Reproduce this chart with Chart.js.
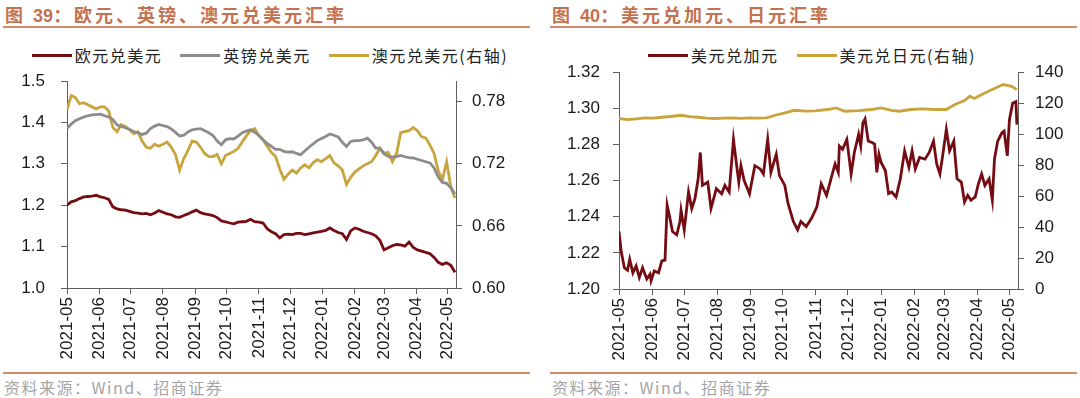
<!DOCTYPE html>
<html>
<head>
<meta charset="utf-8">
<script src="https://cdn.jsdelivr.net/npm/chart.js@4/dist/chart.umd.min.js"></script>
<style>
  body { margin: 0; width: 1080px; height: 398px; background: #fff; position: relative; overflow: hidden;
         font-family: "Noto Sans CJK SC", sans-serif; }
  .title { position: absolute; top: 3px; font-size: 18px; font-weight: bold; color: #c4714f;
           letter-spacing: 3px; line-height: 22px; white-space: nowrap; }
  .title .num { font-family: "Liberation Sans", Arial, sans-serif; letter-spacing: 0; }
  .rule { position: absolute; height: 2px; background: #d4896a; }
  .src { position: absolute; top: 377px; font-size: 16px; color: #a5a5a5; letter-spacing: 1.5px;
         line-height: 20px; white-space: nowrap; }
  .legend { position: absolute; top: 45px; height: 20px; width: 540px; display: flex; justify-content: center;
            align-items: center; font-size: 16px; letter-spacing: 1.5px; color: #222; line-height: 20px; }
  .legend .item { display: flex; align-items: center; margin: 0 9px; white-space: nowrap; }
  .legend .swatch { width: 40px; height: 3px; margin-right: 3px; }
  .box { position: absolute; top: 40px; width: 540px; height: 330px; }
</style>
</head>
<body>
<div class="title" style="left:5px">图 <span class="num">39</span>：欧元、英镑、澳元兑美元汇率</div>
<div class="rule" style="left:3px;width:527px;top:26px"></div>
<div class="title" style="left:552px">图 <span class="num">40</span>：美元兑加元、日元汇率</div>
<div class="rule" style="left:550px;width:527px;top:26px"></div>

<div class="legend" id="legend1" style="left:0"></div>
<div class="legend" id="legend2" style="left:542px"></div>

<div class="box" style="left:0"><canvas id="c1" width="540" height="330"></canvas></div>
<div class="box" style="left:540px"><canvas id="c2" width="540" height="330"></canvas></div>

<div class="rule" style="left:3px;width:527px;top:372px"></div>
<div class="rule" style="left:550px;width:527px;top:372px"></div>
<div class="src" style="left:4px">资料来源：Wind、招商证券</div>
<div class="src" style="left:552px">资料来源：Wind、招商证券</div>

<script>
var START = "2021-05-01";
var LAST_DAY = 373;
var tickLabels = ["2021-05", "2021-06", "2021-07", "2021-08", "2021-09", "2021-10", "2021-11",
  "2021-12", "2022-01", "2022-02", "2022-03", "2022-04", "2022-05"];

// left chart: one reading every 4 days from 2021-05-01
var STEP_DAYS = 4;
var eurUsd = [
  1.200, 1.208, 1.211, 1.216, 1.220, 1.221, 1.222, 1.224, 1.220, 1.218,
  1.214, 1.196, 1.191, 1.189, 1.188, 1.185, 1.182, 1.181, 1.179, 1.180,
  1.177, 1.181, 1.187, 1.183, 1.179, 1.177, 1.172, 1.171, 1.175, 1.179,
  1.184, 1.188, 1.182, 1.179, 1.177, 1.175, 1.170, 1.162, 1.160, 1.157,
  1.155, 1.159, 1.160, 1.161, 1.166, 1.160, 1.159, 1.157, 1.143, 1.136,
  1.131, 1.121, 1.129, 1.130, 1.129, 1.132, 1.132, 1.129, 1.131, 1.133,
  1.135, 1.137, 1.139, 1.145, 1.139, 1.134, 1.131, 1.117, 1.138, 1.145,
  1.142, 1.137, 1.134, 1.131, 1.126, 1.115, 1.092, 1.097, 1.102, 1.105,
  1.104, 1.101, 1.111, 1.098, 1.092, 1.089, 1.086, 1.083, 1.074, 1.062,
  1.057, 1.061, 1.055, 1.038
];
var gbpUsd = [
  1.385, 1.396, 1.404, 1.409, 1.413, 1.416, 1.418, 1.419, 1.420, 1.416,
  1.413, 1.407, 1.394, 1.390, 1.387, 1.383, 1.378, 1.375, 1.371, 1.374,
  1.385, 1.391, 1.395, 1.392, 1.390, 1.384, 1.376, 1.367, 1.369, 1.377,
  1.382, 1.384, 1.385, 1.380, 1.375, 1.368, 1.355, 1.346, 1.358, 1.361,
  1.360, 1.367, 1.375, 1.379, 1.382, 1.376, 1.369, 1.358, 1.349, 1.342,
  1.335, 1.335, 1.330, 1.328, 1.329, 1.325, 1.322, 1.331, 1.340, 1.348,
  1.356, 1.361, 1.366, 1.372, 1.369, 1.365, 1.352, 1.342, 1.354, 1.356,
  1.356, 1.358, 1.362, 1.352, 1.338, 1.338, 1.324, 1.318, 1.316, 1.318,
  1.320, 1.317, 1.315, 1.314, 1.311, 1.308, 1.305, 1.302, 1.290, 1.268,
  1.255, 1.253, 1.242, 1.227
];
var audUsd = [
  0.772, 0.786, 0.784, 0.778, 0.779, 0.777, 0.775, 0.773, 0.775, 0.775,
  0.771, 0.755, 0.751, 0.758, 0.756, 0.753, 0.749, 0.751, 0.742, 0.736,
  0.735, 0.739, 0.737, 0.739, 0.741, 0.736, 0.729, 0.714, 0.725, 0.733,
  0.742, 0.741, 0.736, 0.730, 0.727, 0.727, 0.729, 0.720, 0.728, 0.730,
  0.732, 0.735, 0.741, 0.747, 0.752, 0.754, 0.747, 0.743, 0.737, 0.731,
  0.727, 0.715, 0.705, 0.710, 0.714, 0.711, 0.716, 0.719, 0.716, 0.721,
  0.724, 0.722, 0.725, 0.728, 0.721, 0.718, 0.714, 0.700, 0.707, 0.712,
  0.715, 0.718, 0.720, 0.722, 0.728, 0.735, 0.730, 0.731, 0.722, 0.730,
  0.750, 0.751, 0.752, 0.755, 0.752, 0.746, 0.745, 0.738, 0.730, 0.713,
  0.705, 0.722, 0.698, 0.687
];
var eurTicks = [1.0, 1.1, 1.2, 1.3, 1.4, 1.5];
var audTicks = [0.60, 0.66, 0.72, 0.78];

// right chart: day offsets from START and readings
var cadDays = [0, 2, 5, 8, 10, 13, 16, 19, 22, 26, 29, 30, 33, 37, 40, 43, 45, 47, 50, 54,
  57, 58, 61, 65, 68, 71, 74, 76, 78, 83, 86, 91, 96, 99, 103, 107, 110, 112, 114, 117,
  122, 127, 132, 135, 139, 142, 147, 150, 155, 158, 163, 167, 170, 175, 180, 185, 189, 194, 199, 202,
  205, 206, 209, 213, 217, 220, 224, 226, 228, 230, 233, 237, 239, 241, 243, 245, 249, 252, 255, 259,
  263, 267, 271, 274, 277, 281, 286, 290, 294, 297, 300, 303, 306, 309, 313, 316, 320, 323, 326, 329,
  333, 336, 339, 342, 346, 349, 351, 354, 358, 360, 363, 365, 368, 371, 372];
var usdCad = [1.2318, 1.2210, 1.2118, 1.2104, 1.2164, 1.2090, 1.2127, 1.2064, 1.2118, 1.2055,
  1.2082, 1.2045, 1.2100, 1.2090, 1.2155, 1.2160, 1.2464, 1.2409, 1.2318, 1.2300,
  1.2373, 1.2436, 1.2327, 1.2536, 1.2445, 1.2500, 1.2609, 1.2755, 1.2573, 1.2591,
  1.2445, 1.2555, 1.2527, 1.2573, 1.2536, 1.2827, 1.2682, 1.2591, 1.2682, 1.2600,
  1.2527, 1.2682, 1.2664, 1.2636, 1.2827, 1.2645, 1.2745, 1.2627, 1.2573, 1.2473,
  1.2373, 1.2327, 1.2373, 1.2345, 1.2391, 1.2455, 1.2582, 1.2518, 1.2627, 1.2691,
  1.2645, 1.2791, 1.2773, 1.2827, 1.2636, 1.2755, 1.2855, 1.2791, 1.2918, 1.2940,
  1.2818, 1.2809, 1.2800, 1.2645, 1.2745, 1.2700, 1.2655, 1.2527, 1.2536, 1.2509,
  1.2609, 1.2764, 1.2673, 1.2764, 1.2664, 1.2727, 1.2718, 1.2755, 1.2818, 1.2691,
  1.2636, 1.2755, 1.2882, 1.2764, 1.2818, 1.2609, 1.2591, 1.2482, 1.2518, 1.2491,
  1.2509, 1.2582, 1.2636, 1.2573, 1.2609, 1.2491, 1.2718, 1.2818, 1.2864, 1.2873,
  1.2736, 1.2936, 1.3027, 1.3036, 1.2909];
var jpyDays = [0, 8, 16, 24, 32, 40, 48, 58, 66, 74, 82, 90, 98, 106, 114, 122, 130, 138, 146, 155,
  164, 174, 183, 195, 203, 211, 224, 236, 245, 255, 262, 273, 283, 295, 306, 314, 323, 328, 332, 342,
  351, 359, 367, 372];
var usdJpy = [110.0, 109.3, 109.8, 110.4, 110.2, 110.8, 111.3, 112.1, 111.2, 110.8,
  110.3, 110.0, 110.2, 110.4, 110.1, 110.4, 110.2, 110.4, 112.1, 113.6,
  115.3, 114.7, 114.9, 115.8, 116.8, 114.7, 115.1, 115.8, 116.8, 115.3,
  114.7, 115.8, 116.2, 115.8, 115.8, 119.0, 121.6, 124.4, 122.9, 126.5,
  129.3, 131.9, 130.8, 128.6];

var RED = "#760c13";
var GRAY = "#8c8c8c";
var GOLD = "#c9a43d";
var AXIS = "#5f5f5f";
var tickFont = { family: "Liberation Sans", size: 17 };

var monthDays = tickLabels.map(function (l) {
  return Math.round((Date.parse(l + "-01") - Date.parse(START)) / 86400000);
});

function gridPoints(values) {
  return values.map(function (v, i) { return { x: i * STEP_DAYS, y: v }; });
}

function zipPoints(days, values) {
  return days.map(function (d, i) { return { x: d, y: values[i] }; });
}

function line(label, points, color, axis) {
  return {
    label: label,
    data: points,
    borderColor: color,
    backgroundColor: color,
    borderWidth: 2.8,
    pointRadius: 0,
    tension: 0,
    yAxisID: axis,
  };
}

function fixed(ticks) {
  return function (scale) {
    scale.ticks = ticks.map(function (v) { return { value: v }; });
  };
}

function yAxis(position, min, max, ticks, digits, width, pad) {
  return {
    type: "linear",
    position: position,
    min: min,
    max: max,
    afterBuildTicks: fixed(ticks),
    afterFit: function (s) { s.width = width; },
    grid: { drawOnChartArea: false, tickLength: 6, color: AXIS },
    border: { color: AXIS },
    ticks: {
      font: tickFont,
      color: "#1a1a1a",
      padding: pad,
      callback: function (v) { return v.toFixed(digits); },
    },
  };
}

function xAxis(height) {
  return {
    type: "linear",
    min: 0,
    max: LAST_DAY,
    afterBuildTicks: fixed(monthDays),
    afterFit: function (s) { s.height = height; },
    grid: { drawOnChartArea: false, tickLength: 6, color: AXIS },
    border: { color: AXIS },
    ticks: {
      font: tickFont,
      color: "#1a1a1a",
      padding: 3,
      autoSkip: false,
      minRotation: 90,
      maxRotation: 90,
      callback: function (v, i) { return tickLabels[i]; },
    },
  };
}

function buildLegend(id, chart) {
  var box = document.getElementById(id);
  chart.data.datasets.forEach(function (ds) {
    var item = document.createElement("div");
    item.className = "item";
    var sw = document.createElement("span");
    sw.className = "swatch";
    sw.style.background = ds.borderColor;
    var txt = document.createElement("span");
    txt.textContent = ds.label;
    item.appendChild(sw);
    item.appendChild(txt);
    box.appendChild(item);
  });
}

var chart1 = new Chart("c1", {
  type: "line",
  data: {
    datasets: [
      line("欧元兑美元", gridPoints(eurUsd), RED, "y"),
      line("英镑兑美元", gridPoints(gbpUsd), GRAY, "y"),
      line("澳元兑美元(右轴)", gridPoints(audUsd), GOLD, "y1"),
    ],
  },
  options: {
    responsive: false,
    animation: false,
    layout: { padding: { top: 41, left: 0, right: 0, bottom: 0 } },
    plugins: { legend: { display: false }, tooltip: { enabled: false } },
    scales: {
      x: xAxis(82),
      y: yAxis("left", 1.0, 1.5, eurTicks, 1, 67, 16),
      y1: yAxis("right", 0.60, 0.80, audTicks, 2, 84, 10),
    },
  },
});

var chart2 = new Chart("c2", {
  type: "line",
  data: {
    datasets: [
      line("美元兑加元", zipPoints(cadDays, usdCad), RED, "y"),
      line("美元兑日元(右轴)", zipPoints(jpyDays, usdJpy), GOLD, "y1"),
    ],
  },
  options: {
    responsive: false,
    animation: false,
    layout: { padding: { top: 32, left: 0, right: 0, bottom: 0 } },
    plugins: { legend: { display: false }, tooltip: { enabled: false } },
    scales: {
      x: xAxis(81),
      y: yAxis("left", 1.20, 1.32, [1.20, 1.22, 1.24, 1.26, 1.28, 1.30, 1.32], 2, 79, 13),
      y1: yAxis("right", 0, 140, [0, 20, 40, 60, 80, 100, 120, 140], 0, 62, 11),
    },
  },
});

buildLegend("legend1", chart1);
buildLegend("legend2", chart2);
</script>
</body>
</html>
